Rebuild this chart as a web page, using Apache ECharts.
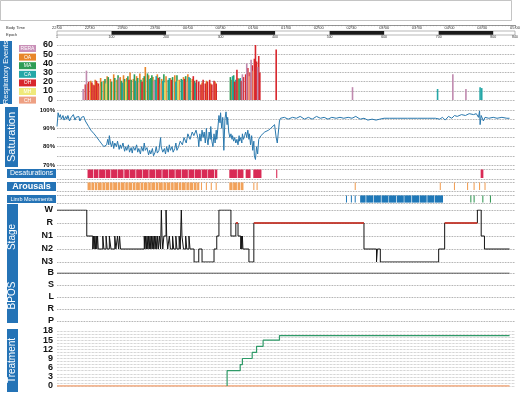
<!DOCTYPE html>
<html><head><meta charset="utf-8">
<script src="https://cdn.jsdelivr.net/npm/echarts@6/dist/echarts.min.js"></script>
<style>html,body{margin:0;padding:0;background:#fff}#c{width:525px;height:393px}</style>
</head><body><div id="c"></div>
<script>
// ---- Data (time in minutes from start of recording) ----
const timeLabels = ['22:00','22:30','23:00','23:30','00:00','00:30','01:00','01:30','02:00','02:30','03:00','03:30','04:00','04:30','05:00'];
const epochBlocks = [[100,200],[300,400],[500,600],[700,800]];

const respOA = [[28,18],[31,21],[33,17],[35,22],[37,19],[40,24],[43,21],[46,26],[49,23],[52,28],[55,22],[58,25],[61,27],[64,24],[67,30],[70,23],[73,26],[76,29],[79,24],[81,36],[84,27],[88,25],[92,28],[96,23],[100,26],[104,24],[108,27],[112,22],[116,25],[120,28],[124,23],[133,19],[137,21],[141,18],[145,20],[160,22],[166,24]];
const respMA = [[41,20],[44,23],[47,25],[50,20],[53,24],[56,27],[59,21],[62,23],[65,26],[68,22],[71,28],[74,24],[77,22],[80,26],[83,29],[86,24],[87,27],[90,22],[94,25],[98,28],[102,22],[106,25],[110,27],[114,23],[118,26],[122,24],[126,21],[159,25],[162,27],[167,23]];
const respCA = [[60,19],[72,21],[85,23],[91,26],[97,21],[103,24],[109,20],[115,22],[121,25],[127,19],[161,26],[164,22],[168,24],[349,12],[388,14],[389.5,13]];
const respOH = [[26,17],[29,20],[32,19],[34,16],[36,21],[38,18],[66,22],[78,20],[93,24],[105,22],[117,23],[125,26],[128,22],[130,20],[132,17],[134,22],[136,18],[138,20],[140,22],[142,17],[144,21],[146,18],[163,20],[165,33],[169,21],[171,25],[173,28],[175,35],[177,30],[179,38],[181,45],[182,60],[183,42],[185,48],[186,30],[201,55]];
const respMH = [[45,18],[63,20],[99,19],[111,21]];
const respCH = [[39,15],[75,19],[95,18],[119,20],[176,26],[180,32]];
const respRERA = [[24,12],[27,32],[57,24],[89,21],[170,28],[174,40],[178,44],[184,36],[271,14],[363,28],[375,12]];

const saturation = [[0,91],[1,98.5],[2,96],[3,97.5],[4,95],[5.5,97],[6.5,94.5],[8,96.5],[9,95],[10,97],[11.5,94],[13,96],[14,95],[15,97.5],[16.5,94.5],[17.5,96],[18.5,95],[20,96.5],[21,94],[22.5,96],[24,95],[24.5,96.5],[26,94],[27.5,93.5],[29,91],[30,92],[31,89],[32.5,90],[34,87],[35,88],[36,85.5],[37.5,86],[38.5,83.5],[40,84],[41,81.5],[42,82.5],[43,80],[44.5,79],[45.5,81],[46.5,84],[47.5,81],[48,86],[49,82],[50,80],[51,83],[52,79],[53,82],[54.5,80],[55.5,83],[57,78.5],[58,81],[59,79],[60.5,82],[62,77.5],[63,80],[64,78],[65.5,81],[66.5,77],[68,79.5],[69,76.5],[70,80],[71.5,78],[73,81],[74,77],[75,79],[76.5,76],[77.5,80],[79,77.5],[80,82],[81,78],[82.5,79.5],[84,75.5],[85,78],[86,76],[87.5,79],[88.5,75],[90,77],[91,80],[92,76.5],[93.5,78],[95,85],[95.5,80],[97,77],[98.5,79],[99.5,76],[100.5,80],[102,77],[103,81],[104,78],[105.5,80],[106.5,77],[108,79],[109,82],[110,78],[111.5,80],[113,83],[115,81],[116.5,85],[118.5,82],[120,87],[122,84],[124,88],[125.5,86],[127.5,89],[129.5,84],[130,80],[131,87],[132,83],[133,89],[134,85],[135,88],[136,82],[137,90],[137.5,85],[138.5,81],[139.5,88],[140.5,84],[141,91],[142,83],[143,80],[144,87],[145,82],[146,89],[146.5,84],[147.5,90],[148.5,97],[149.5,93],[150,98.5],[151,90],[152,96],[153,78],[154,95],[155,99],[156,92],[156.5,96],[157.5,88],[158.5,85],[159.5,87],[160.5,84],[161,86],[162,83],[163,85],[164,82],[165,84],[166,81],[167,86],[167.5,83],[168.5,85],[169.5,82],[170,87],[171,84],[172,86],[173,88],[174,85],[175,89],[176,84],[176.5,87],[177.5,81],[178.5,86],[179.5,78],[180.5,83],[181,75],[182,73],[183,80],[184,76],[185,84],[187,86],[188.5,85],[190.5,88],[192,87],[194,89],[196,90],[197.5,91],[199.5,92],[200.5,91],[201,85],[202,82],[203,88],[204,94],[205,95.5],[208.5,96],[212,95],[216,96],[219.5,95.5],[223,96.5],[227,95],[230.5,96],[234,95],[238,96.5],[241.5,95.5],[245,96],[248.5,95],[252,96],[256,95.5],[259.5,96],[263,95.5],[267,96],[270.5,95.5],[274,96.5],[278,95],[281.5,95.5],[285,94.5],[289,95],[292.5,94.5],[296,95],[300,95.5],[305,95.5],[312.5,95.5],[321.5,95.5],[330.5,95.5],[340,95.5],[347,95.5],[351,95],[353.5,96],[356,94.5],[359,96.5],[362,95.5],[364.5,97],[367,96.5],[371,97.5],[374.5,97],[378,98],[382,97.5],[384.5,98],[386.5,96],[387.5,99.5],[388,92],[389,97],[391,94],[392.5,96],[396,95.5],[400,96],[403.5,95.5],[408,96],[412.5,95.5],[415,95.5]];

const desaturations = [[28,33],[33.6,38],[38.6,44],[44.5,49],[49.6,55],[55.5,61],[61.7,66],[66.5,72],[72.6,78],[78.5,84],[84.6,90],[90.5,96],[96.6,102],[102.5,108],[108.6,114],[114.5,120],[120.6,126],[126.5,132],[132.6,138],[138.5,144],[144.6,147],[158,165],[165.6,171],[173,177.5],[180,187.5],[201,202],[388.5,391]];
const arousals = [[28,31],[31.5,34],[34.6,37],[37.5,41],[41.6,44],[44.5,48],[48.6,51],[51.5,55],[55.6,58],[58.5,62],[62.6,65],[65.5,69],[69.6,72],[72.5,76],[76.6,79],[79.5,83],[83.6,86],[86.5,90],[90.6,93],[93.5,97],[97.6,100],[100.5,104],[104.6,107],[107.5,111],[111.6,114],[114.5,118],[118.6,121],[121.5,125],[125.6,128],[128.5,130.5],[132,133],[136.5,137.5],[141,142],[145.5,146.5],[158,161],[161.5,165],[165.6,168],[168.5,171],[180,181],[183,184],[273,274],[351,352],[364,365],[376,377],[382,383],[387,388],[392,393]];
const limbBlue = [[265,265.8],[269.5,270.3],[273,273.8],[278,283],[283.6,290],[290.5,297],[297.6,304],[304.5,311],[311.6,318],[318.5,325],[325.6,332],[332.5,339],[339.6,346],[346.5,354]];
const limbGreen = [[379,380],[382,383],[390,391],[397,398]];

// Stage codes: 4=W 3=R 2=N1 1=N2 0=N3
const stageNames = {4:'W',3:'R',2:'N1',1:'N2',0:'N3'};
const stages = [[0,4],[27.3,2],[32.8,1],[33.5,2],[34,1],[34.7,2],[35.3,1],[36,2],[36.5,1],[37.2,2],[37.8,1],[39,1],[42,2],[43,1],[45,2],[46,1],[48,2],[49.5,1],[53,2],[54,1],[55.5,2],[56.5,1],[57.4,2],[58.2,1],[80,2],[80.6,1],[81.3,2],[82,1],[82.6,2],[83.3,1],[84,2],[84.6,1],[85.3,2],[86,1],[86.6,2],[87.3,1],[88,2],[88.7,1],[89.4,2],[90,1],[90.7,2],[91.5,1],[92.3,2],[93,1],[94,2],[95,1],[95.7,4],[96.3,2],[97,1],[98,2],[100,4],[100.6,2],[101.5,1],[103,2],[104,1],[106,2],[107,1],[109,2],[110,1],[112,2],[113,1],[114,4],[114.6,2],[116,1],[118,2],[119,1],[121,2],[122,1],[125.7,0],[130,1],[133,0],[144,1],[146.5,2],[148.5,4],[159.5,2],[164,3],[166,2],[168.5,1],[169,2],[169.5,1],[170,2],[170.5,1],[176,0],[180.5,3],[281.5,1],[293,0],[293.8,1],[296.5,0],[350,1],[355.5,3],[385.5,4],[389,2],[392,1],[415,1]];
const remSegments = [[164,166],[180.5,281.5],[355.5,385.5]];

const bposNames = {4:'B',3:'S',2:'L',1:'R',0:'P'};
const bpos = [[0,4],[415,4]];

const treatmentPressure = [[156,0],[156,5],[168,7],[170,9],[179,11],[183,13],[189,15],[204,16.5],[415,16.5]];
const treatmentBase = [[0,0],[415,0]];

// ---- Chart ----
const FONT = 'Liberation Sans, Arial, sans-serif';
const L = 57, W = 458;
const gridsDef = [[22,3],[31,4],[45,55],[110,55],[169,10],[182,9],[195,8],[210,52],[273,48],[331,55]];
const grid = gridsDef.map(g => ({left:L, width:W, top:g[0], height:g[1], containLabel:false}));
grid[1].show = true; grid[1].borderColor = '#888'; grid[1].borderWidth = 0.6;

const dotted = {show:true, lineStyle:{type:'dotted', color:'#8c8c8c', width:0.8}};
function hx(gi){ return {type:'value', gridIndex:gi, min:0, max:420, show:false}; }
const xAxis = [
  {type:'value', gridIndex:0, min:0, max:420, interval:30, position:'bottom',
   axisLine:{show:true, lineStyle:{color:'#666', width:0.7}},
   axisTick:{show:true, length:2.5, lineStyle:{color:'#666', width:0.6}},
   minorTick:{show:true, splitNumber:10, length:1.2, lineStyle:{color:'#888', width:0.5}},
   splitLine:{show:false},
   axisLabel:{fontSize:4, margin:1, color:'#333', fontFamily:FONT, formatter:v => timeLabels[Math.round(v/30)] || ''}},
  {type:'value', gridIndex:1, min:0, max:840, interval:100,
   axisLine:{show:false}, axisTick:{show:false}, splitLine:{show:false},
   axisLabel:{fontSize:3.5, margin:0.5, color:'#333', fontFamily:FONT, formatter:v => v === 0 ? '1' : String(v)}},
  hx(2), hx(3), hx(4), hx(5), hx(6), hx(7), hx(8), hx(9)
];

const boldLab = (size, fmt, margin) => ({fontSize:size, fontWeight:'bold', color:'#111', fontFamily:FONT, margin:margin||4, formatter:fmt, showMinLabel:true, showMaxLabel:true, hideOverlap:false});
const yAxis = [
  {type:'value', gridIndex:0, show:false, min:0, max:1},
  {type:'value', gridIndex:1, show:false, min:0, max:1},
  {type:'value', gridIndex:2, min:0, max:60, interval:10, axisLine:{show:false}, axisTick:{show:false}, splitLine:dotted, axisLabel:boldLab(9, v => String(v), 4)},
  {type:'value', gridIndex:3, min:70, max:100, interval:5, axisLine:{show:false}, axisTick:{show:false}, splitLine:dotted, axisLabel:boldLab(6, v => v % 10 === 0 ? v + '%' : '', 2)},
  {type:'value', gridIndex:4, min:0, max:1, interval:1, axisLine:{show:false}, axisTick:{show:false}, axisLabel:{show:false}, splitLine:dotted},
  {type:'value', gridIndex:5, min:0, max:1, interval:1, axisLine:{show:false}, axisTick:{show:false}, axisLabel:{show:false}, splitLine:dotted},
  {type:'value', gridIndex:6, min:0, max:1, interval:1, axisLine:{show:false}, axisTick:{show:false}, axisLabel:{show:false}, splitLine:dotted},
  {type:'value', gridIndex:7, min:0, max:4, interval:1, axisLine:{show:false}, axisTick:{show:false}, splitLine:dotted, axisLabel:boldLab(9, v => stageNames[v] || '', 4)},
  {type:'value', gridIndex:8, min:0, max:4, interval:1, axisLine:{show:false}, axisTick:{show:false}, splitLine:dotted, axisLabel:boldLab(9, v => bposNames[v] || '', 3)},
  {type:'value', gridIndex:9, min:0, max:18, interval:1, axisLine:{show:false}, axisTick:{show:false}, splitLine:{show:true, lineStyle:{type:'dotted', color:'#aaa', width:0.7}}, axisLabel:boldLab(9, v => v % 3 === 0 ? String(v) : '', 4)}
];

function intervalSeries(idx, arr, color, y0, y1) {
  return {type:'custom', xAxisIndex:idx, yAxisIndex:idx, silent:true,
    data: arr.map(d => [d[0], d[1], y0, y1]),
    encode:{x:[0,1], y:[2,3]},
    renderItem:(params, api) => {
      const a = api.coord([api.value(0), api.value(3)]);
      const b = api.coord([api.value(1), api.value(2)]);
      return {type:'rect', shape:{x:a[0], y:a[1], width:Math.max(b[0]-a[0], 1), height:b[1]-a[1]}, style:{fill:color}};
    }};
}
function respBar(name, arr, color) {
  return {type:'bar', name, xAxisIndex:2, yAxisIndex:2, data:arr, barWidth:1.6, barGap:'-100%', itemStyle:{color}, silent:true, animation:false};
}
const remLine = [];
remSegments.forEach((s, i) => { if (i) remLine.push([s[0], '-']); remLine.push([s[0], 3], [s[1], 3]); });

const series = [
  intervalSeries(1, epochBlocks, '#1a1a1a', 0.05, 1),
  respBar('OA', respOA, '#e8862a'),
  respBar('MA', respMA, '#2f9d55'),
  respBar('CA', respCA, '#25a7a7'),
  respBar('OH', respOH, '#d8262c'),
  respBar('MH', respMH, '#e6dc64'),
  respBar('CH', respCH, '#eea083'),
  respBar('RERA', respRERA, '#c08aaf'),
  {type:'line', xAxisIndex:3, yAxisIndex:3, data:saturation, symbol:'none', lineStyle:{color:'#2a78ad', width:1}, silent:true},
  intervalSeries(4, desaturations, '#d92a55', 0.1, 0.95),
  intervalSeries(5, arousals, '#f2a25a', 0.1, 0.95),
  intervalSeries(6, limbBlue, '#1f78b8', 0.05, 0.95),
  intervalSeries(6, limbGreen, '#3a9a5a', 0.05, 0.95),
  {type:'line', xAxisIndex:7, yAxisIndex:7, data:stages, step:'end', symbol:'none', lineStyle:{color:'#141414', width:1}, silent:true},
  {type:'line', xAxisIndex:7, yAxisIndex:7, data:remLine, symbol:'none', connectNulls:false, lineStyle:{color:'#dc3326', width:1.6}, silent:true},
  {type:'line', xAxisIndex:8, yAxisIndex:8, data:bpos, symbol:'none', lineStyle:{color:'#333', width:1.1}, silent:true},
  {type:'line', xAxisIndex:9, yAxisIndex:9, data:treatmentBase, symbol:'none', lineStyle:{color:'#f0a070', width:1.5}, silent:true},
  {type:'line', xAxisIndex:9, yAxisIndex:9, data:treatmentPressure, step:'end', symbol:'none', lineStyle:{color:'#2f9a68', width:1.2}, silent:true}
];

const BLUE = '#2473b6';
function vbox(x, y, w, h, text, size) {
  return {type:'group', children:[
    {type:'rect', shape:{x, y, width:w, height:h}, style:{fill:BLUE}},
    {type:'text', x:x + w/2, y:y + h/2, rotation:Math.PI/2, style:{text, fill:'#fff', fontSize:size, fontFamily:FONT, align:'center', verticalAlign:'middle'}}
  ]};
}
function hbox(x, y, w, h, text, size, bold) {
  return {type:'group', children:[
    {type:'rect', shape:{x, y, width:w, height:h}, style:{fill:BLUE}},
    {type:'text', x:x + w/2, y:y + h/2, style:{text, fill:'#fff', fontSize:size, fontWeight:bold ? 'bold' : 'normal', fontFamily:FONT, align:'center', verticalAlign:'middle'}}
  ]};
}
const legendItems = [['RERA','#c990b8'],['OA','#e8862a'],['MA','#2f9d55'],['CA','#25a7a7'],['OH','#d8262c'],['MH','#efe97a'],['CH','#eea083']];
const legendGraphics = legendItems.map((it, i) => ({type:'group', children:[
  {type:'rect', shape:{x:19, y:45 + i*8.6, width:17, height:7}, style:{fill:it[1]}},
  {type:'text', x:27.5, y:48.6 + i*8.6, style:{text:it[0], fill:'#fff', fontSize:5, fontFamily:FONT, align:'center', verticalAlign:'middle'}}
]}));

const graphic = [
  {type:'rect', shape:{x:0.5, y:0.5, width:511, height:20}, style:{fill:'none', stroke:'#b5b5b5', lineWidth:0.8}},
  {type:'text', x:6, y:26, style:{text:'Body Time', fontSize:4, fill:'#333', fontFamily:FONT}},
  {type:'text', x:6, y:33, style:{text:'Epoch', fontSize:4, fill:'#333', fontFamily:FONT}},
  vbox(0, 41, 12, 63, 'Respiratory Events', 7.5),
  vbox(5, 107, 13, 60, 'Saturation', 11),
  hbox(7, 169, 49, 9, 'Desaturations', 7),
  hbox(7, 182, 49, 9, 'Arousals', 9, true),
  hbox(7, 195, 49, 8, 'Limb Movements', 5.5),
  vbox(7, 204, 11, 66, 'Stage', 10),
  vbox(7, 268, 11, 55, 'BPOS', 10),
  vbox(7, 329, 11, 63, 'Treatment', 10)
].concat(legendGraphics);

const chart = echarts.init(document.getElementById('c'), null, {renderer:'canvas'});
chart.setOption({animation:false, backgroundColor:'#fff', grid, xAxis, yAxis, series, graphic});
</script></body></html>
